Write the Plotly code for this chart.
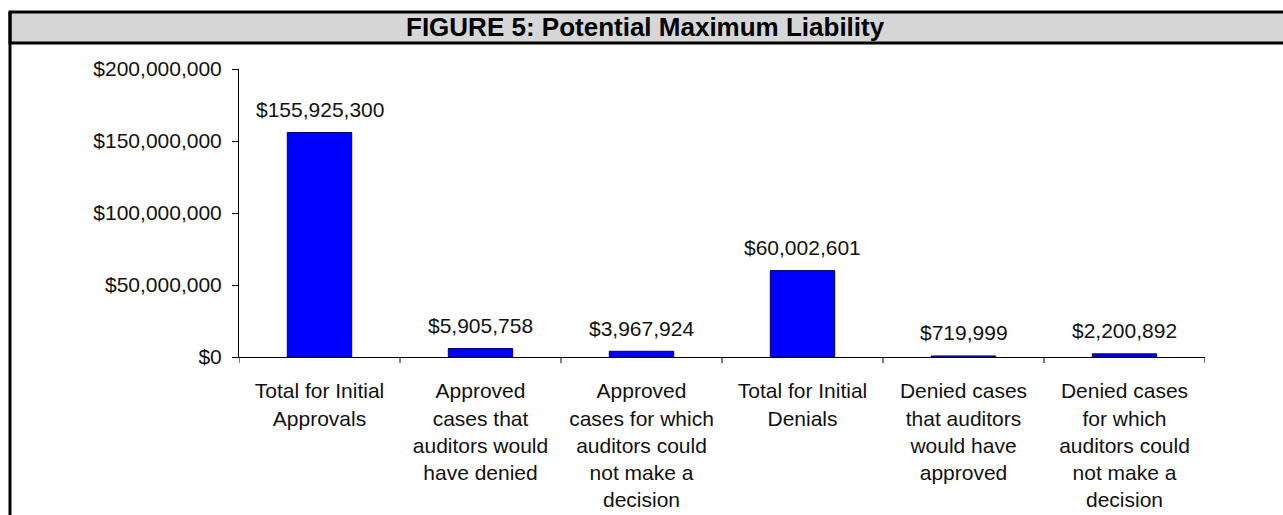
import plotly.graph_objects as go

# Chart data
categories = [
    "Total for Initial<br>Approvals",
    "Approved<br>cases that<br>auditors would<br>have denied",
    "Approved<br>cases for which<br>auditors could<br>not make a<br>decision",
    "Total for Initial<br>Denials",
    "Denied cases<br>that auditors<br>would have<br>approved",
    "Denied cases<br>for which<br>auditors could<br>not make a<br>decision",
]
liability = [155925300, 5905758, 3967924, 60002601, 719999, 2200892]
y_ticks = [0, 50000000, 100000000, 150000000, 200000000]
y_tick_labels = [f"${v:,}" for v in y_ticks]
title_text = "FIGURE 5: Potential Maximum Liability"

W, H = 1283, 515
L, R, T, B = 239, 78, 69, 158
PW, PH = W - L - R, H - T - B


def px_x(p):
    return (p - L) / PW


def px_y(p):
    return (H - B - p) / PH


FONT = "Liberation Sans, Arial, sans-serif"
idx = list(range(len(categories)))

fig = go.Figure(
    go.Bar(
        x=idx,
        y=liability,
        width=0.4,
        marker=dict(color="#0000FF", line=dict(color="#000060", width=1)),
        hoverinfo="y",
    )
)

# value labels above the bars
for i, v in zip(idx, liability):
    fig.add_annotation(
        x=i, y=v, xref="x", yref="y",
        text=f"${v:,}",
        showarrow=False,
        yanchor="middle",
        yshift=23,
        font=dict(family=FONT, size=21, color="#111111"),
    )

# title band and frame
fig.add_shape(
    type="rect", xref="paper", yref="paper",
    x0=px_x(10), x1=px_x(1300), y0=px_y(12), y1=px_y(43),
    fillcolor="#D6D6D6", line=dict(color="black", width=3), layer="below",
)
fig.add_shape(
    type="line", xref="paper", yref="paper",
    x0=px_x(10), x1=px_x(10), y0=px_y(12), y1=px_y(530),
    line=dict(color="black", width=3),
)
fig.add_annotation(
    x=px_x(645), y=px_y(27.5), xref="paper", yref="paper",
    text=f"<b>{title_text}</b>", showarrow=False,
    xanchor="center", yanchor="middle",
    font=dict(family=FONT, size=26, color="black"),
)

fig.update_layout(
    width=W, height=H,
    margin=dict(l=L, r=R, t=T, b=B, pad=0, autoexpand=False),
    paper_bgcolor="white", plot_bgcolor="white",
    showlegend=False,
    font=dict(family=FONT, size=21, color="#111111"),
)
fig.update_xaxes(
    type="linear",
    automargin=False,
    range=[-0.5, len(categories) - 0.5],
    tickmode="array",
    tickvals=idx,
    ticktext=categories,
    ticks="",
    showline=True, linecolor="black", linewidth=1,
    showgrid=False, zeroline=False,
    ticklabelstandoff=15,
    tickfont=dict(family=FONT, size=21, color="#111111"),
)
# boundary tick marks on the category axis
for k in range(len(categories) + 1):
    fig.add_shape(
        type="line", xref="x", yref="paper",
        x0=k - 0.5, x1=k - 0.5, y0=0, y1=px_y(363),
        line=dict(color="black", width=1),
    )
fig.update_yaxes(
    automargin=False,
    range=[0, 200000000],
    tickmode="array",
    tickvals=y_ticks,
    ticktext=y_tick_labels,
    ticks="outside", ticklen=6, tickcolor="black",
    showline=True, linecolor="black", linewidth=1,
    showgrid=False, zeroline=False,
    ticklabelstandoff=6,
    tickfont=dict(family=FONT, size=21, color="#111111"),
)

fig.write_html("out.html")
